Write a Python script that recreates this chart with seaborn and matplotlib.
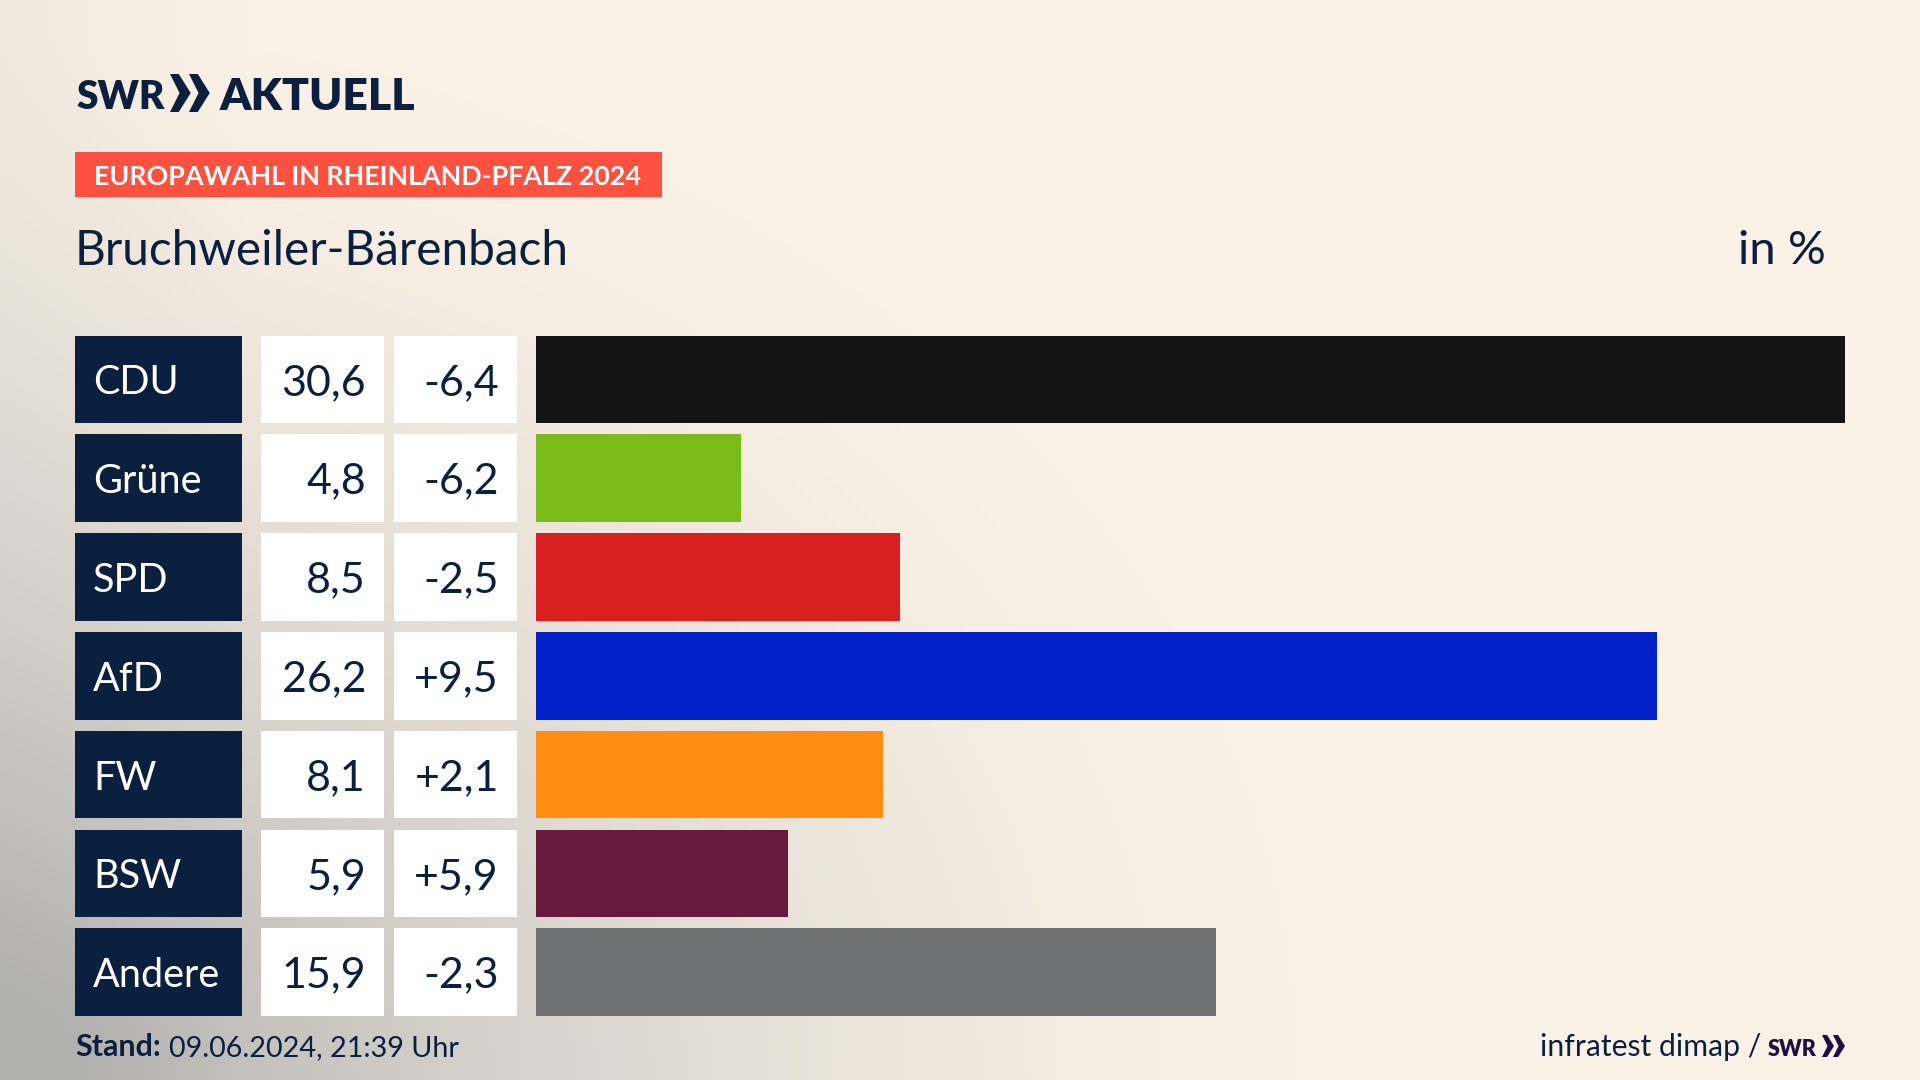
"""Election result bar chart, SWR Aktuell style."""

import matplotlib
matplotlib.use("Agg")
import matplotlib.pyplot as plt
from matplotlib.patches import Polygon, Rectangle
import numpy as np
import pandas as pd
import seaborn as sns

parties = ["CDU", "Grüne", "SPD", "AfD", "FW", "BSW", "Andere"]
results = [30.6, 4.8, 8.5, 26.2, 8.1, 5.9, 15.9]
changes = [-6.4, -6.2, -2.5, 9.5, 2.1, 5.9, -2.3]
party_colors = ["#141414", "#7ABD1B", "#D7201F", "#0021C8", "#FF8D14", "#671A3E", "#707173"]

NAVY = "#0B1F3E"
CREAM = np.array([250, 241, 230]) / 255
GREY = np.array([176, 176, 175]) / 255
W, H = 1920, 1080
ROW_TOP, ROW_PITCH, BAR_FRAC = 330.0, 98.8, 0.886
BODY = ["Lato", "DejaVu Sans"]


def de(value, signed=False):
    text = f"{value:+.1f}" if signed else f"{value:.1f}"
    return text.replace(".", ",")


def chevrons(ax, x, y, h, color):
    # the two arrows of the SWR logo
    w = h * 0.42
    for off in (0, h * 0.5):
        ax.add_patch(Polygon(
            [(x + off, y), (x + off + w * 0.55, y), (x + off + w * 1.3, y + h / 2),
             (x + off + w * 0.55, y + h), (x + off, y + h), (x + off + w * 0.6, y + h / 2)],
            closed=True, color=color, lw=0,
        ))


sns.set_theme(style="white")
plt.rcParams["font.family"] = BODY

fig = plt.figure(figsize=(W / 100, H / 100), dpi=100)

# background, darkening to the lower left
bg = fig.add_axes([0, 0, 1, 1])
yy, xx = np.mgrid[0:H, 0:W]
dist = np.sqrt((xx / 1300) ** 2 + ((H - yy) / 1050) ** 2)
shade = np.clip(1 - dist, 0, 1) ** 1.5
edge = 0.12 * np.clip(1 - xx / 250, 0, 1)
shade = np.clip(shade + edge, 0, 1)
img = CREAM[None, None, :] * (1 - shade[..., None]) + GREY[None, None, :] * shade[..., None]
bg.imshow(img, extent=(0, W, H, 0), aspect="auto", interpolation="bilinear")
bg.set_xlim(0, W)
bg.set_ylim(H, 0)
bg.axis("off")

# bars
df = pd.DataFrame({"party": parties, "result": results})
bar_ax = fig.add_axes([536 / W, 1 - (ROW_TOP + ROW_PITCH * 7) / H, (1845 - 536) / W, ROW_PITCH * 7 / H])
sns.barplot(
    data=df, x="result", y="party", hue="party", palette=party_colors,
    width=BAR_FRAC, saturation=1, legend=False, linewidth=0, ax=bar_ax,
)
bar_ax.set_xlim(0, 30.6)
bar_ax.set_ylim(6.5, -0.5)
bar_ax.patch.set_alpha(0)
bar_ax.axis("off")

# table cells and all text, in pixel coordinates
pg = fig.add_axes([0, 0, 1, 1])
pg.set_xlim(0, W)
pg.set_ylim(H, 0)
pg.patch.set_alpha(0)
pg.axis("off")

box_h = ROW_PITCH * BAR_FRAC
for i, party in enumerate(parties):
    cy = ROW_TOP + ROW_PITCH * (i + 0.5)
    top = cy - box_h / 2
    pg.add_patch(Rectangle((75, top), 167, box_h, color=NAVY, lw=0))
    pg.add_patch(Rectangle((261, top), 123, box_h, color="white", lw=0))
    pg.add_patch(Rectangle((394, top), 123, box_h, color="white", lw=0))
    pg.text(93, cy, party, color="white", fontsize=28.5, va="center_baseline", ha="left")
    pg.text(366, cy, de(results[i]), color=NAVY, fontsize=31, va="center_baseline", ha="right")
    pg.text(499, cy, de(changes[i], signed=True), color=NAVY, fontsize=31, va="center_baseline", ha="right")

# header
pg.text(76, 109, "SWR", color=NAVY, fontsize=28, fontweight="heavy", va="baseline")
chevrons(pg, 170, 74, 38, NAVY)
pg.text(220, 110, "AKTUELL", color=NAVY, fontsize=32, fontweight="heavy", va="baseline")

pg.add_patch(Rectangle((75, 152), 587, 45, color="#FF513F", lw=0))
pg.text(94, 175, "EUROPAWAHL IN RHEINLAND-PFALZ 2024", color="white", fontsize=19.4,
        fontweight="bold", va="center_baseline")

pg.text(75, 265, "Bruchweiler-Bärenbach", color=NAVY, fontsize=34.4, va="baseline")
pg.text(1826, 264, "in %", color=NAVY, fontsize=34, va="baseline", ha="right")

# footer
pg.text(75, 1056, "Stand:", color=NAVY, fontsize=22, fontweight="bold", va="baseline")
pg.text(169, 1056, "09.06.2024, 21:39 Uhr", color=NAVY, fontsize=20.7, va="baseline")
pg.text(1761, 1056, "infratest dimap /", color=NAVY, fontsize=21.7, va="baseline", ha="right")
pg.text(1768, 1056, "SWR", color="#1F0F40", fontsize=15.5, fontweight="heavy", va="baseline")
chevrons(pg, 1822, 1035, 22, "#1F0F40")

fig.savefig("out.png", dpi=100)
plt.close(fig)
